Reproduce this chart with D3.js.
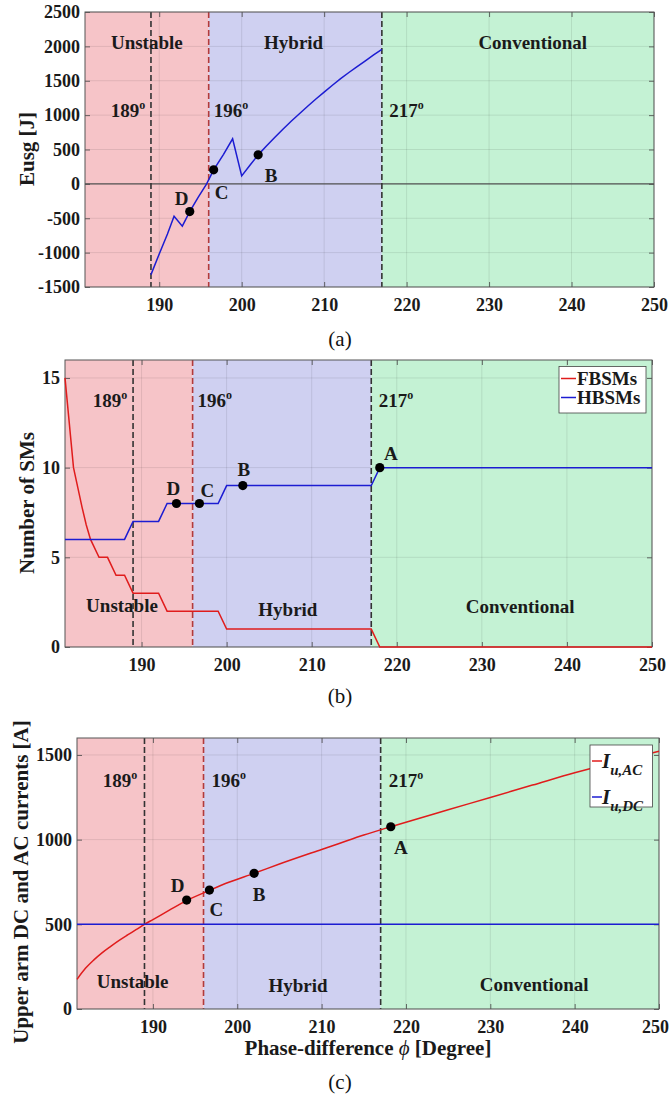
<!DOCTYPE html>
<html><head><meta charset="utf-8">
<script src="https://cdn.jsdelivr.net/npm/d3@7"></script>
<style>
body{margin:0;background:#fff}
svg{display:block}
text{font-family:"Liberation Serif","Times New Roman",serif}
</style>
</head><body>
<svg id="chart" width="670" height="1100"></svg>
<script>
// ---------- shared data ----------
const xDomain = [181, 250];
const xTicks = [190, 200, 210, 220, 230, 240, 250];
const regionNames = ["Unstable", "Hybrid", "Conventional"];
const regionStarts = [181, 196, 217];
const regionEnds = [196, 217, 250];
const boundaryAngles = [189, 196, 217];
const boundaryLabels = ["189", "196", "217"];

// ---------- panel (a) ----------
const aYTicks = [-1500, -1000, -500, 0, 500, 1000, 1500, 2000, 2500];
const eusgPhi = [189, 190, 191, 191.8, 192.8, 193.7, 194.7, 195.75, 196.6, 197.8, 198.9, 200, 201, 202, 203, 204, 205, 206, 207, 208, 209, 210, 211, 212, 213, 214, 215, 216, 217];
const eusgVal = [-1320, -1020, -730, -470, -615, -403, -200, 0, 204, 430, 655, 116, 270, 422, 550, 675, 795, 910, 1020, 1130, 1235, 1335, 1435, 1530, 1620, 1705, 1790, 1875, 1955];
const aPointNames = ["D", "C", "B"];
const aPointPhi = [193.7, 196.6, 202];
const aPointVal = [-403, 204, 422];

// ---------- panel (b) ----------
const bYTicks = [0, 5, 10, 15];
const fbPhi = [181, 182, 182.5, 183, 183.5, 184, 185, 186, 187, 188, 189, 192, 193, 199, 200, 217, 218, 250];
const fbVal = [15, 10, 8.9, 7.8, 6.8, 6, 5, 5, 4, 4, 3, 3, 2, 2, 1, 1, 0, 0];
const hbPhi = [181, 188, 189, 192, 193, 199, 200, 217, 218, 250];
const hbVal = [6, 6, 7, 7, 8, 8, 9, 9, 10, 10];
const bSeriesNames = ["FBSMs", "HBSMs"];
const bPointNames = ["D", "C", "B", "A"];
const bPointPhi = [194.1, 196.8, 201.9, 218];
const bPointVal = [8, 8, 9, 10];

// ---------- panel (c) ----------
const cYTicks = [0, 500, 1000, 1500];
const acPhi = [181, 182, 183, 184, 185, 186, 187, 188, 189, 190, 192, 194, 196.7, 199, 202, 205, 210, 212, 215, 218.2, 220, 225, 230, 235, 240, 245, 250];
const acVal = [175, 240, 290, 333, 370, 405, 437, 468, 500, 528, 585, 640, 700, 748, 801, 856, 942, 976, 1027, 1076, 1103, 1176, 1249, 1322, 1395, 1460, 1522];
const dcPhi = [181, 250];
const dcVal = [500, 500];
const cSeriesSubs = ["u,AC", "u,DC"];
const cPointNames = ["D", "C", "B", "A"];
const cPointPhi = [194, 196.7, 202, 218.2];
const cPointVal = [643, 702, 801, 1076];

// ---------- styles ----------
const regionColors = ["#f6c4c8", "#cfd0f1", "#c4f2d4"];
const boundaryColors = ["#333333", "#b33a3a", "#333333"];
const RED = "#e01c1c", BLUE = "#1c1cd2";
const FONT = '"Liberation Serif","Times New Roman",serif';

const svg = d3.select("#chart");

function drawPanel(cfg) {
  const g = svg.append("g");
  const x = d3.scaleLinear().domain(xDomain).range([cfg.left, cfg.right]);
  const y = d3.scaleLinear().domain(cfg.yDomain).range([cfg.bottom, cfg.top]);

  g.selectAll("rect.region").data(regionNames).join("rect")
    .attr("x", (d, i) => x(regionStarts[i]))
    .attr("width", (d, i) => x(regionEnds[i]) - x(regionStarts[i]))
    .attr("y", cfg.top).attr("height", cfg.bottom - cfg.top)
    .attr("fill", (d, i) => regionColors[i]);

  g.selectAll("line.gx").data(xTicks).join("line")
    .attr("x1", d => x(d)).attr("x2", d => x(d))
    .attr("y1", cfg.top).attr("y2", cfg.bottom)
    .attr("stroke", "#000").attr("stroke-opacity", 0.09).attr("stroke-width", 1);
  g.selectAll("line.gy").data(cfg.yTicks).join("line")
    .attr("x1", cfg.left).attr("x2", cfg.right)
    .attr("y1", d => y(d)).attr("y2", d => y(d))
    .attr("stroke", "#000").attr("stroke-opacity", 0.09).attr("stroke-width", 1);

  if (cfg.zeroLine) {
    g.append("line").attr("x1", cfg.left).attr("x2", cfg.right)
      .attr("y1", y(0)).attr("y2", y(0))
      .attr("stroke", "#555").attr("stroke-width", 1.2);
  }

  g.selectAll("line.bd").data(boundaryAngles).join("line")
    .attr("x1", d => x(d)).attr("x2", d => x(d))
    .attr("y1", cfg.top).attr("y2", cfg.bottom)
    .attr("stroke", (d, i) => boundaryColors[i])
    .attr("stroke-width", 1.6).attr("stroke-dasharray", "6,3");

  const styleAxis = sel => {
    sel.select(".domain").remove();
    sel.selectAll(".tick line").attr("stroke", "#444").attr("stroke-width", 0.8);
    sel.selectAll(".tick text").attr("fill", "#1a1a1a")
      .style("font-family", FONT).style("font-size", "18px").style("font-weight", "bold");
  };
  const fmt = d => String(d);
  const bx = g.append("g").attr("transform", `translate(0,${cfg.bottom})`)
    .call(d3.axisBottom(x).tickValues(xTicks).tickSizeInner(-5).tickSizeOuter(0).tickPadding(11).tickFormat(fmt))
    .call(styleAxis);
  if (cfg.lastTickShift) {
    bx.selectAll(".tick text").filter(d => d === 250).attr("dx", cfg.lastTickShift);
  }
  g.append("g").attr("transform", `translate(0,${cfg.top})`)
    .call(d3.axisTop(x).tickValues(xTicks).tickSizeInner(-5).tickSizeOuter(0).tickFormat(""))
    .call(styleAxis);
  g.append("g").attr("transform", `translate(${cfg.left},0)`)
    .call(d3.axisLeft(y).tickValues(cfg.yTicks).tickSizeInner(-5).tickSizeOuter(0).tickPadding(5).tickFormat(fmt))
    .call(styleAxis);
  g.append("g").attr("transform", `translate(${cfg.right},0)`)
    .call(d3.axisRight(y).tickValues(cfg.yTicks).tickSizeInner(-5).tickSizeOuter(0).tickFormat(""))
    .call(styleAxis);

  g.append("rect").attr("x", cfg.left).attr("y", cfg.top)
    .attr("width", cfg.right - cfg.left).attr("height", cfg.bottom - cfg.top)
    .attr("fill", "none").attr("stroke", "#555").attr("stroke-width", 1);

  cfg.series.forEach(s => {
    const line = d3.line().x((d, i) => x(s.xs[i])).y((d, i) => y(s.ys[i]));
    if (s.smooth) line.curve(d3.curveMonotoneX);
    g.append("path").datum(s.ys).attr("d", line)
      .attr("fill", "none").attr("stroke", s.color).attr("stroke-width", 1.5);
  });

  regionNames.forEach((n, i) => {
    g.append("text").attr("x", x(cfg.regionLabelPos[i][0])).attr("y", y(cfg.regionLabelPos[i][1]))
      .attr("text-anchor", "middle").style("font-size", "19px").style("font-weight", "bold")
      .attr("fill", "#1a1a1a").text(n);
  });

  boundaryLabels.forEach((b, i) => {
    const t = g.append("text").attr("x", x(cfg.degLabelX[i])).attr("y", y(cfg.degLabelY))
      .attr("text-anchor", "middle").style("font-size", "19px").style("font-weight", "bold")
      .attr("fill", "#1a1a1a");
    t.append("tspan").text(b);
    t.append("tspan").attr("dy", -8).style("font-size", "12px").text("o");
  });

  g.selectAll("circle.pt").data(cfg.points.names).join("circle")
    .attr("cx", (d, i) => x(cfg.points.xs[i])).attr("cy", (d, i) => y(cfg.points.ys[i]))
    .attr("r", 4.6).attr("fill", "#000");
  g.selectAll("text.pl").data(cfg.points.names).join("text")
    .attr("x", (d, i) => x(cfg.points.xs[i]) + cfg.points.off[i][0])
    .attr("y", (d, i) => y(cfg.points.ys[i]) + cfg.points.off[i][1])
    .attr("text-anchor", "middle").style("font-size", "19px").style("font-weight", "bold")
    .attr("fill", "#1a1a1a").text(d => d);

  svg.append("text")
    .attr("transform", `translate(${cfg.yLabelX},${cfg.yLabelY}) rotate(-90)`)
    .attr("text-anchor", "middle").style("font-size", "21px").style("font-weight", "bold")
    .attr("fill", "#1a1a1a").text(cfg.yLabel);

  svg.append("text").attr("x", 340).attr("y", cfg.captionY).attr("text-anchor", "middle")
    .style("font-size", "21px").attr("fill", "#111").text(cfg.caption);

  return { g, x, y };
}

// panel (a)
drawPanel({
  left: 85, right: 654, top: 12, bottom: 287,
  yDomain: [-1500, 2500], yTicks: aYTicks, zeroLine: true,
  series: [{ xs: eusgPhi, ys: eusgVal, color: BLUE }],
  regionLabelPos: [[188.5, 1964], [206.3, 1964], [235.3, 1964]],
  degLabelX: [186.2, 198.7, 220.0], degLabelY: 975,
  points: { names: aPointNames, xs: aPointPhi, ys: aPointVal, off: [[-8, -7], [8, 29], [13, 27]] },
  yLabel: "Eusg [J]", yLabelX: 34, yLabelY: 149,
  caption: "(a)", captionY: 346
});

// panel (b)
const pb = drawPanel({
  left: 65, right: 652, top: 360, bottom: 647,
  yDomain: [0, 16], yTicks: bYTicks, zeroLine: false,
  series: [{ xs: fbPhi, ys: fbVal, color: RED }, { xs: hbPhi, ys: hbVal, color: BLUE }],
  regionLabelPos: [[187.7, 1.97], [207.2, 1.72], [234.5, 1.9]],
  degLabelX: [186.3, 198.6, 219.9], degLabelY: 13.4,
  points: { names: bPointNames, xs: bPointPhi, ys: bPointVal, off: [[-3, -9], [8, -7], [1, -10], [11, -8]] },
  yLabel: "Number of SMs", yLabelX: 34, yLabelY: 503,
  caption: "(b)", captionY: 703
});
{
  const lg = pb.g.append("g");
  lg.append("rect").attr("x", 559).attr("y", 366.5).attr("width", 87).attr("height", 46.5)
    .attr("fill", "#fff").attr("stroke", "#444").attr("stroke-width", 0.8);
  const colors = [RED, BLUE];
  bSeriesNames.forEach((n, i) => {
    const yy = 378.5 + i * 19;
    lg.append("line").attr("x1", 561).attr("x2", 576).attr("y1", yy).attr("y2", yy)
      .attr("stroke", colors[i]).attr("stroke-width", 1.5);
    lg.append("text").attr("x", 577).attr("y", yy + 6.5).style("font-size", "19px")
      .style("font-weight", "bold").attr("fill", "#1a1a1a").text(n);
  });
}

// panel (c)
const pc = drawPanel({
  left: 77, right: 659, top: 738, bottom: 1009,
  yDomain: [0, 1600], yTicks: cYTicks, zeroLine: false, lastTickShift: -4,
  series: [{ xs: acPhi, ys: acVal, color: RED, smooth: true }, { xs: dcPhi, ys: dcVal, color: BLUE }],
  regionLabelPos: [[187.6, 122], [207.2, 102], [235.2, 106]],
  degLabelX: [186.1, 199.0, 220.0], degLabelY: 1312,
  points: { names: cPointNames, xs: cPointPhi, ys: cPointVal, off: [[-9, -8], [7, 26], [5, 28], [10, 27]] },
  yLabel: "Upper arm DC and AC currents [A]", yLabelX: 28, yLabelY: 882,
  caption: "(c)", captionY: 1089
});
{
  const t = svg.append("text").attr("x", 368).attr("y", 1055).attr("text-anchor", "middle")
    .style("font-size", "21px").style("font-weight", "bold").attr("fill", "#1a1a1a");
  t.append("tspan").text("Phase-difference ");
  t.append("tspan").style("font-style", "italic").style("font-weight", "normal").text("\u03D5");
  t.append("tspan").text(" [Degree]");
}
{
  const lg = pc.g.append("g");
  lg.append("rect").attr("x", 590).attr("y", 745).attr("width", 62.5).attr("height", 62)
    .attr("fill", "#fff").attr("stroke", "#444").attr("stroke-width", 0.8);
  const colors = [RED, BLUE];
  cSeriesSubs.forEach((s, i) => {
    const yy = 761 + i * 36;
    lg.append("line").attr("x1", 592).attr("x2", 602).attr("y1", yy).attr("y2", yy)
      .attr("stroke", colors[i]).attr("stroke-width", 1.5);
    const t = lg.append("text").attr("x", 602).attr("y", yy + 7)
      .style("font-size", "21px").style("font-weight", "bold").style("font-style", "italic")
      .attr("fill", "#1a1a1a");
    t.append("tspan").text("I");
    t.append("tspan").attr("dy", 7).style("font-size", "15px").text(s);
  });
}
</script>
</body></html>
